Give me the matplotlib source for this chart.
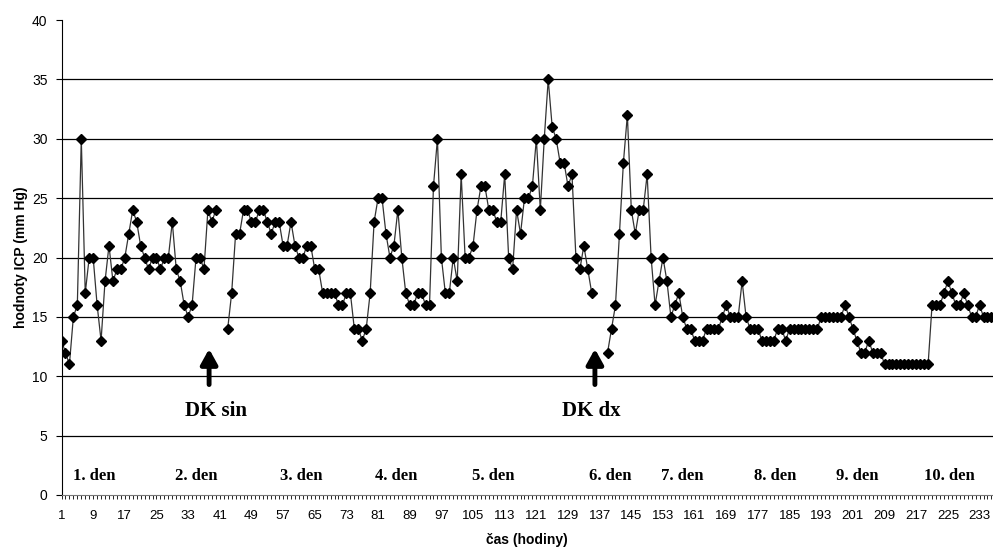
import numpy as np
import matplotlib.pyplot as plt

nan = np.nan

# hodiny 1..236, prázdné hodnoty = chybějící měření
hours = np.arange(1, 237)
icp = [13, 12, 11, 15, 16, 30, 17, 20, 20, 16,
       13, 18, 21, 18, 19, 19, 20, 22, 24, 23,
       21, 20, 19, 20, 20, 19, 20, 20, 23, 19,
       18, 16, 15, 16, 20, 20, 19, 24, 23, 24,
       nan, nan, 14, 17, 22, 22, 24, 24, 23, 23,
       24, 24, 23, 22, 23, 23, 21, 21, 23, 21,
       20, 20, 21, 21, 19, 19, 17, 17, 17, 17,
       16, 16, 17, 17, 14, 14, 13, 14, 17, 23,
       25, 25, 22, 20, 21, 24, 20, 17, 16, 16,
       17, 17, 16, 16, 26, 30, 20, 17, 17, 20,
       18, 27, 20, 20, 21, 24, 26, 26, 24, 24,
       23, 23, 27, 20, 19, 24, 22, 25, 25, 26,
       30, 24, 30, 35, 31, 30, 28, 28, 26, 27,
       20, 19, 21, 19, 17, nan, nan, nan, 12, 14,
       16, 22, 28, 32, 24, 22, 24, 24, 27, 20,
       16, 18, 20, 18, 15, 16, 17, 15, 14, 14,
       13, 13, 13, 14, 14, 14, 14, 15, 16, 15,
       15, 15, 18, 15, 14, 14, 14, 13, 13, 13,
       13, 14, 14, 13, 14, 14, 14, 14, 14, 14,
       14, 14, 15, 15, 15, 15, 15, 15, 16, 15,
       14, 13, 12, 12, 13, 12, 12, 12, 11, 11,
       11, 11, 11, 11, 11, 11, 11, 11, 11, 11,
       16, 16, 16, 17, 18, 17, 16, 16, 17, 16,
       15, 15, 16, 15, 15, 15]

x_ticks = list(range(1, 237, 8))
y_ticks = list(range(0, 41, 5))

day_labels = ["1. den", "2. den", "3. den", "4. den", "5. den",
              "6. den", "7. den", "8. den", "9. den", "10. den"]
day_pos = [9.2, 35.0, 61.5, 85.5, 110.0, 139.6, 157.8, 181.3, 202.0, 225.5]

events = ["DK sin", "DK dx"]
arrow_pos = [38.3, 135.8]
event_text_pos = [40.0, 135.0]

fig = plt.figure(figsize=(9.93, 5.48), dpi=100)
fig.patch.set_facecolor("white")
ax = fig.add_axes([61.5 / 993, 1 - 495 / 548, 1 - 61.5 / 993, 475 / 548])

# Gridlines
for yv in y_ticks[1:-1]:
    ax.axhline(yv, color="black", lw=0.9, zorder=1)

ax.plot(hours, icp, color="#333333", lw=0.9, marker="D", markersize=5,
        markerfacecolor="black", markeredgecolor="black", zorder=3)

ax.set_xlim(1, 236.4)
ax.set_ylim(0, 40)

ax.set_xticks(x_ticks)
ax.set_xticks(hours, minor=True)
ax.set_yticks(y_ticks)
ax.tick_params(axis="x", which="both", direction="out", length=3, width=0.6,
               pad=8, labelsize=9.5)
ax.tick_params(axis="y", direction="out", length=4, width=0.8, pad=6, labelsize=10)
for lbl in ax.get_xticklabels() + ax.get_yticklabels():
    lbl.set_family(["Liberation Sans Narrow", "Liberation Sans"])

ax.spines["top"].set_visible(False)
ax.spines["right"].set_visible(False)
ax.spines["left"].set_color("black")
ax.spines["bottom"].set_color("#777777")

ax.set_xlabel("čas (hodiny)", fontsize=10, fontweight="bold",
              family="Liberation Sans", labelpad=8)
ax.set_ylabel("hodnoty ICP (mm Hg)", fontsize=10, fontweight="bold",
              family="Liberation Sans", labelpad=3)

for name, xp in zip(day_labels, day_pos):
    ax.text(xp, 1.6, name, ha="center", va="center", fontsize=12,
            fontweight="bold", family="Liberation Serif", zorder=4)

for xp in arrow_pos:
    ax.annotate("", xy=(xp, 12.3), xytext=(xp, 9.3),
                arrowprops=dict(arrowstyle="-|>,head_width=0.5,head_length=0.9",
                                color="black", lw=3.5, shrinkA=0, shrinkB=0))

for name, xp in zip(events, event_text_pos):
    ax.text(xp, 7.1, name, ha="center", va="center", fontsize=15,
            fontweight="bold", family="Liberation Serif", zorder=4)

fig.savefig("out.png", dpi=100)
